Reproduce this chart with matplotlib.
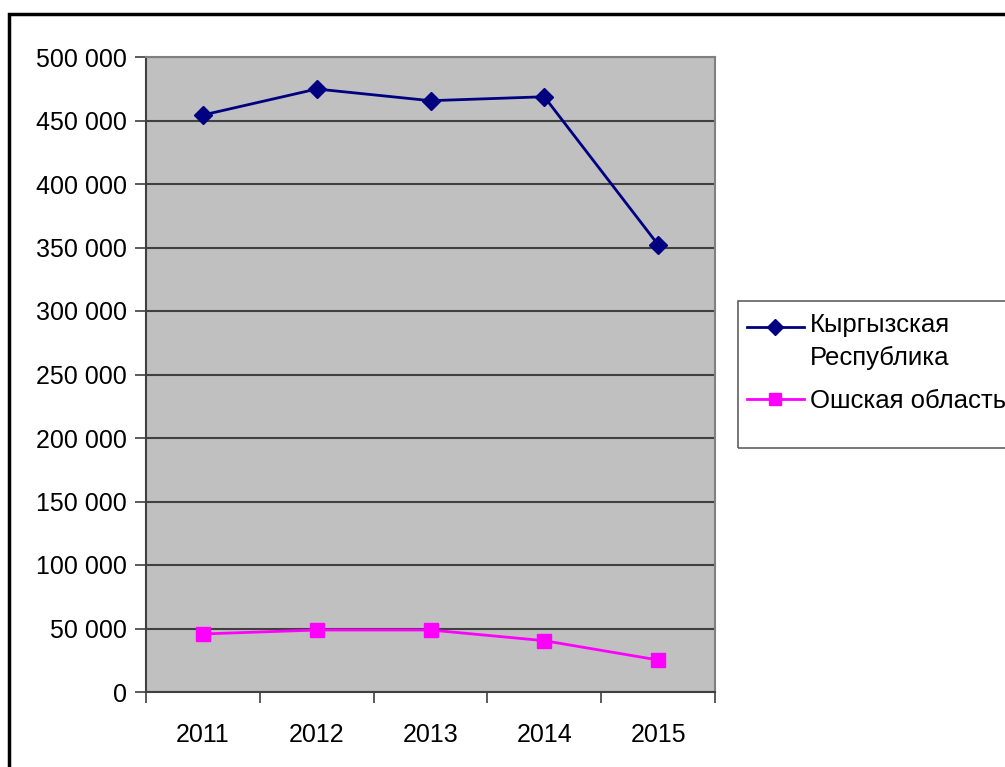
import matplotlib
matplotlib.use('Agg')
import matplotlib.pyplot as plt
from matplotlib.patches import Rectangle
from matplotlib.ticker import FuncFormatter
from matplotlib.legend_handler import HandlerLine2D

plt.rcParams['font.family'] = ['Liberation Sans', 'DejaVu Sans']

# yearly values
years = ['2011', '2012', '2013', '2014', '2015']
kyrgyz = [454300, 474800, 465600, 468700, 352200]
osh = [45700, 48800, 48800, 40400, 25200]
series_names = ['Кыргызская\nРеспублика', 'Ошская область']


class TopLineHandler(HandlerLine2D):
    """Legend line lifted up to sit next to the first line of a two-line label."""

    def __init__(self, lift, **kw):
        super().__init__(**kw)
        self.lift = lift

    def create_artists(self, legend, orig_handle, xdescent, ydescent,
                       width, height, fontsize, trans):
        return super().create_artists(legend, orig_handle, xdescent,
                                      ydescent - 2 * self.lift, width, height,
                                      fontsize, trans)


fig = plt.figure(figsize=(10.05, 7.67), dpi=100)
ax = fig.add_axes([146 / 1005, 1 - 692 / 767, (715 - 146) / 1005, (692 - 57) / 767])
ax.set_facecolor('#C0C0C0')

x = list(range(len(years)))
line_k, = ax.plot(x, kyrgyz, color='#000080', lw=2, marker='D', ms=9,
                  mfc='#000080', mec='#000080', label=series_names[0], zorder=3)
line_o, = ax.plot(x, osh, color='#FF00FF', lw=2, marker='s', ms=10,
                  mfc='#FF00FF', mec='#FF00FF', label=series_names[1], zorder=3)

ax.set_xlim(-0.5, len(years) - 0.5)
ax.set_ylim(0, 500000)
ax.set_yticks(range(0, 500001, 50000))
ax.yaxis.set_major_formatter(FuncFormatter(lambda v, p: f'{int(v):,}'.replace(',', ' ')))
ax.grid(axis='y', color='#404040', lw=1.5)
ax.set_axisbelow(True)

# tick marks at category boundaries, labels at category centres
ax.set_xticks([i - 0.5 for i in range(len(years) + 1)])
ax.set_xticklabels([])
ax.set_xticks(x, minor=True)
ax.set_xticklabels(years, minor=True)
ax.tick_params(axis='x', which='major', length=8, width=1.2, color='#404040')
ax.tick_params(axis='x', which='minor', length=0, pad=22, labelsize=18)
ax.tick_params(axis='y', length=8, width=1.2, color='#404040', pad=6, labelsize=18)

for side in ['top', 'right']:
    ax.spines[side].set_color('#808080')
    ax.spines[side].set_linewidth(1.5)
for side in ['left', 'bottom']:
    ax.spines[side].set_color('#404040')
    ax.spines[side].set_linewidth(1.5)

# outer chart border, right and bottom edges run off the canvas
fig.add_artist(Rectangle((9 / 1005, -0.1), 1.2, 0.1 + 1 - 14 / 767,
                         transform=fig.transFigure, fill=False,
                         edgecolor='black', lw=2.5, clip_on=False))

# legend frame, open to the right
fig.add_artist(Rectangle((738 / 1005, 1 - 448 / 767), 0.5, 147 / 767,
                         transform=fig.transFigure, fill=False,
                         edgecolor='#606060', lw=1.2, clip_on=False))
leg = fig.legend(handles=[line_k, line_o], loc='upper left',
                 bbox_to_anchor=(747 / 1005, 1 - 313 / 767),
                 frameon=False, fontsize=18.5, handlelength=2.2,
                 handletextpad=0.24, labelspacing=0.75, borderaxespad=0,
                 borderpad=0, handler_map={line_k: TopLineHandler(lift=10.5)})
for t in leg.get_texts():
    t.set_linespacing(1.45)
for h in leg.legend_handles:
    h.set_markersize(8)

fig.savefig('out.png', dpi=100)
